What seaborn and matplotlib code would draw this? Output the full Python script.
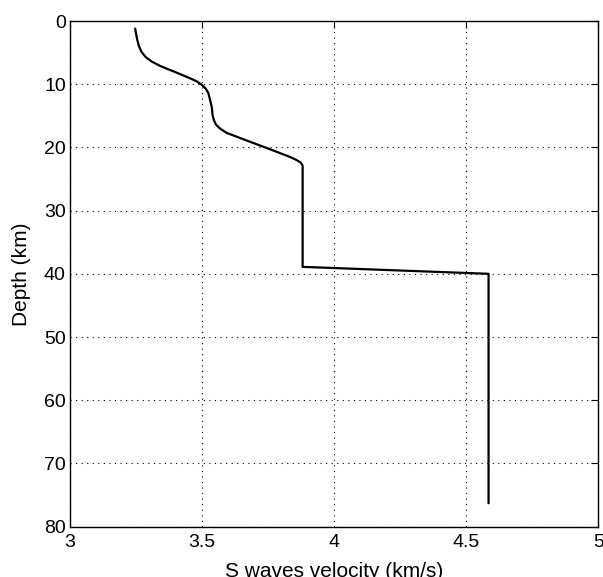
import numpy as np
import pandas as pd
import matplotlib
matplotlib.use("Agg")
import matplotlib.pyplot as plt
import seaborn as sns

# ── data ──────────────────────────────────────────────────────────────────────
velocity = [3.247, 3.250, 3.255, 3.261, 3.271, 3.288, 3.309, 3.341, 3.379,
            3.417, 3.455, 3.480, 3.499, 3.514, 3.524, 3.530, 3.537, 3.540,
            3.545, 3.553, 3.568, 3.593, 3.631, 3.675, 3.720, 3.758, 3.795,
            3.833, 3.858, 3.874, 3.881, 3.881, 4.585, 4.585]
depth    = [1.2, 1.95, 3.0, 3.96, 4.9, 5.75, 6.4, 7.1, 7.75,
            8.4, 9.07, 9.55, 10.1, 10.7, 11.4, 12.4, 13.6, 14.9,
            15.7, 16.4, 17.0, 17.7, 18.3, 19.0, 19.7, 20.3, 20.9,
            21.5, 22.0, 22.4, 22.9, 38.9, 40.0, 76.3]

x_ticks = [3, 3.5, 4, 4.5, 5]
x_labels = ["3", "3.5", "4", "4.5", "5"]
y_ticks = [0, 10, 20, 30, 40, 50, 60, 70, 80]

df = pd.DataFrame({"velocity": velocity, "depth": depth})

# ── style ─────────────────────────────────────────────────────────────────────
sns.set_style("white")
plt.rcParams["font.family"] = ["Liberation Sans", "DejaVu Sans"]
plt.rcParams["text.color"] = "black"
plt.rcParams["axes.labelcolor"] = "black"

fig = plt.figure(figsize=(6.03, 5.77), dpi=100)
ax = fig.add_axes([0.116, 0.0873, 0.876, 0.8763])

sns.lineplot(data=df, x="velocity", y="depth", sort=False, estimator=None,
             color="black", linewidth=1.6, ax=ax)

ax.set_xlim(3, 5)
ax.set_ylim(80, 0)
ax.set_xticks(x_ticks)
ax.set_xticklabels(x_labels)
ax.set_yticks(y_ticks)
ax.grid(True, linestyle=(0, (1, 4)), color="black", linewidth=0.8)

ax.tick_params(direction="in", length=5, width=0.8, labelsize=14,
               top=True, right=True, colors="black")
ax.tick_params(axis="x", pad=5)
ax.tick_params(axis="y", pad=3)
for s in ax.spines.values():
    s.set_color("black")
    s.set_linewidth(1)

ax.set_xlabel("S waves velocity (km/s)", fontsize=15, labelpad=8)
ax.set_ylabel("Depth (km)", fontsize=15, labelpad=9)

fig.savefig("out.png", dpi=100)
